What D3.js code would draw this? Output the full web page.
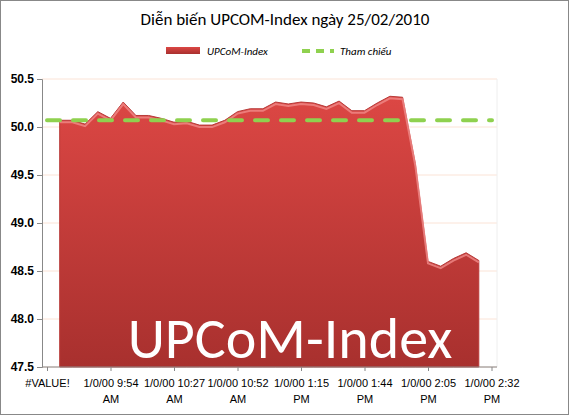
<!DOCTYPE html>
<html><head><meta charset="utf-8">
<script src="https://cdn.jsdelivr.net/npm/d3@7"></script>
<style>body{margin:0;background:#fff}svg{font-family:Calibri,Carlito,"Liberation Sans",sans-serif}</style>
</head><body><svg id="c" width="570" height="416"></svg>
<script>
const values = [50.07,50.07,50.03,50.16,50.09,50.26,50.12,50.12,50.09,50.05,50.06,50.02,50.02,50.07,50.16,50.19,50.19,50.26,50.24,50.26,50.25,50.21,50.27,50.17,50.17,50.25,50.32,50.31,49.62,48.6,48.55,48.63,48.69,48.61];
const reference = 50.07;
const tickLabels = ["#VALUE!","1/0/00 9:54|AM","1/0/00 10:27|AM","1/0/00 10:52|AM","1/0/00 1:15|PM","1/0/00 1:44|PM","1/0/00 2:05|PM","1/0/00 2:32|PM"];
const yTicks = [47.5,48.0,48.5,49.0,49.5,50.0,50.5];

const svg = d3.select("#c");
const plotL = 42, plotR = 497, plotT = 79, plotB = 367;
const x = d3.scaleLinear().domain([-1, values.length]).range([47, 47 + 12.7*(values.length+1)]);
const y = d3.scaleLinear().domain([47.5, 50.5]).range([plotB, plotT]);

svg.append("rect").attr("x",0.5).attr("y",0.5).attr("width",568).attr("height",414).attr("fill","#fff").attr("stroke","#888");

const defs = svg.append("defs");
const g = defs.append("linearGradient").attr("id","ag").attr("x1",0).attr("y1",0).attr("x2",0).attr("y2",1);
g.append("stop").attr("offset","0%").attr("stop-color","#dc4744");
g.append("stop").attr("offset","100%").attr("stop-color","#a8302e");

// grid
svg.selectAll(".gl").data(yTicks).join("line")
  .attr("x1",plotL).attr("x2",plotR).attr("y1",d=>y(d)).attr("y2",d=>y(d))
  .attr("stroke","#fbe3d6").attr("stroke-width",1);
svg.append("line").attr("x1",plotR).attr("x2",plotR).attr("y1",plotT).attr("y2",plotB).attr("stroke","#eee");

// area
const area = d3.area().x((d,i)=>x(i)).y0(y(47.5)).y1(d=>y(d));
svg.append("path").datum(values).attr("d",area).attr("fill","url(#ag)")
  .attr("stroke","#b83a38").attr("stroke-width",1);
svg.append("path").datum(values).attr("d",d3.line().x((d,i)=>x(i)).y(d=>y(d)+2))
  .attr("fill","none").attr("stroke","#f08a88").attr("stroke-width",2).attr("opacity",0.8);

// reference line
svg.append("line").attr("x1",47).attr("x2",492).attr("y1",y(reference)).attr("y2",y(reference))
  .attr("stroke","#8fd14f").attr("stroke-width",4).attr("stroke-dasharray","13,13").attr("stroke-linecap","round");

// y axis
const ya = svg.append("g").attr("transform",`translate(${plotL},0)`)
  .call(d3.axisLeft(y).tickValues(yTicks).tickFormat(d3.format(".1f")).tickSize(5));
ya.select(".domain").attr("stroke","#888");
ya.selectAll(".tick line").attr("stroke","#888");
ya.selectAll("text").attr("font-size",12).attr("fill","#000").attr("font-weight","bold");

// x axis
const xa = svg.append("g").attr("transform",`translate(0,${plotB})`)
  .call(d3.axisBottom(x).tickValues(tickLabels.map((d,i)=>-1+5*i)).tickSize(4).tickFormat(""));
xa.select(".domain").attr("d",`M${plotL},0H${plotR}`).attr("stroke","#888");
xa.selectAll(".tick line").attr("stroke","#888");
xa.selectAll(".tick").append("text").attr("fill","#000").attr("font-size",11).attr("text-anchor","middle")
  .each(function(d,i){
    const parts = tickLabels[i].split("|");
    d3.select(this).selectAll("tspan").data(parts).join("tspan")
      .attr("x",0).attr("y",(p,k)=>20+k*16).text(p=>p);
  });

// big watermark
svg.append("text").attr("x",290).attr("y",358).attr("text-anchor","middle")
  .attr("font-size",58).attr("fill","#fff").text("UPCoM-Index");

// title
svg.append("text").attr("x",285).attr("y",25).attr("text-anchor","middle")
  .attr("font-size",17).attr("fill","#000").text("Diễn biến UPCOM-Index ngày 25/02/2010");

// legend
const lg = svg.append("g").attr("font-size",11).attr("font-style","italic");
lg.append("rect").attr("x",166).attr("y",47).attr("width",34).attr("height",7).attr("fill","url(#ag)");
lg.append("text").attr("x",207).attr("y",55).text("UPCoM-Index");
lg.append("line").attr("x1",302).attr("x2",334).attr("y1",51).attr("y2",51)
  .attr("stroke","#8fd14f").attr("stroke-width",4).attr("stroke-dasharray","8,6");
lg.append("text").attr("x",340).attr("y",55).text("Tham chiếu");
</script></body></html>
